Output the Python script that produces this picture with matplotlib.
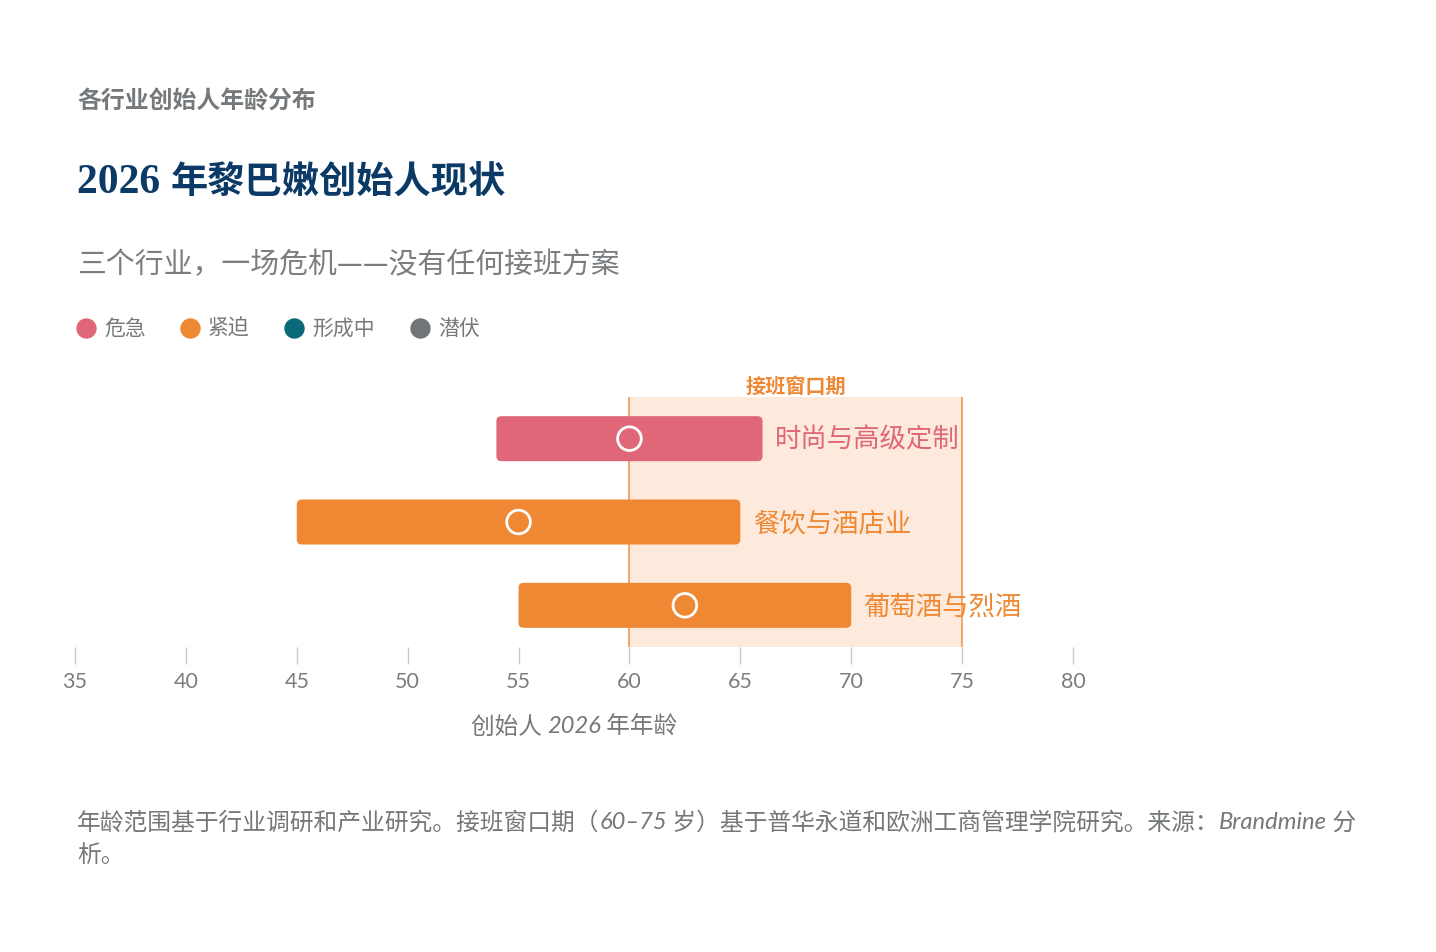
import matplotlib
matplotlib.use('Agg')
import matplotlib.pyplot as plt
from matplotlib.patches import FancyBboxPatch

# ---------------- data ----------------
industries = ['时尚与高级定制', '餐饮与酒店业', '葡萄酒与烈酒']
age_low = [54, 45, 55]
age_high = [66, 65, 70]
age_mid = [60, 55, 62.5]
industry_status = ['危急', '紧迫', '紧迫']

legend_labels = ['危急', '紧迫', '形成中', '潜伏']
legend_colors = ['#df6777', '#ee8833', '#0b6a78', '#727679']

window_range = [60, 75]
window_label = '接班窗口期'
xticks = [35, 40, 45, 50, 55, 60, 65, 70, 75, 80]

kicker = '各行业创始人年龄分布'
title_num = '2026 '
title_cjk = '年黎巴嫩创始人现状'
subtitle = '三个行业，一场危机——没有任何接班方案'

CJK = 'Noto Sans CJK SC'
LAT = 'Lato'
status_color = dict(zip(legend_labels, legend_colors))

W, H = 1436, 953
fig = plt.figure(figsize=(W / 100, H / 100), dpi=100)
fig.patch.set_facecolor('white')

# main axes: x 35..80 maps to px 75..1073 ; y from px 398 to 648
ax = fig.add_axes([75 / W, (H - 648) / H, 998 / W, 250 / H])
ax.set_xlim(35, 80)
ax.set_ylim(2.5, -0.5)
for s in ax.spines.values():
    s.set_visible(False)
ax.set_yticks([])
ax.set_xticks(xticks)
ax.set_xticklabels([str(t) for t in xticks], fontfamily=LAT)
ax.tick_params(axis='x', length=12.5, width=1, color='#c9c9c9',
               labelsize=15.5, labelcolor='#7a7e81', pad=4.5)
ax.patch.set_alpha(0)

# succession window
ax.axvspan(window_range[0], window_range[1], color='#fdeadc', zorder=0, lw=0)
for v in window_range:
    ax.axvline(v, color='#f0a35f', lw=1.3, zorder=1)

# bars
bar_h = 0.54
x_per_px = 45 / 998
y_per_px = 3 / 250
rs = 5 * x_per_px
for i, (lo, hi, mid, st, name) in enumerate(zip(age_low, age_high, age_mid, industry_status, industries)):
    c = status_color[st]
    p = FancyBboxPatch((lo, i - bar_h / 2), hi - lo, bar_h,
                       boxstyle=f'round,pad=0,rounding_size={rs}',
                       mutation_aspect=y_per_px / x_per_px,
                       facecolor=c, edgecolor='none', zorder=2)
    ax.add_patch(p)
    ax.scatter([mid], [i], s=290, facecolors='none', edgecolors='white',
               linewidths=2.0, zorder=3)
    ax.text(hi + 0.55, i + 0.01, name, va='center', ha='left', fontsize=19,
            color=c, fontfamily=CJK, zorder=4, clip_on=False)

# ---------------- overlay for text in pixel coords ----------------
ov = fig.add_axes([0, 0, 1, 1], zorder=10)
ov.set_xlim(0, W)
ov.set_ylim(H, 0)
ov.axis('off')
ov.patch.set_alpha(0)
renderer = fig.canvas.get_renderer()


def segments(x, y, parts, **kw):
    for s, props in parts:
        t = ov.text(x, y, s, va='center', ha='left', **kw, **props)
        bb = t.get_window_extent(renderer=renderer)
        x += bb.width


ov.text(77, 101, kicker, fontsize=17.2, fontweight='bold', color='#75797c',
        fontfamily=CJK, va='center')

segments(77, 183, [(title_num, dict(fontfamily='Liberation Serif', fontsize=30)),
                   (title_cjk, dict(fontfamily=CJK, fontsize=26.8))],
         fontweight='bold', color='#0b3a67')

ov.text(77, 265, subtitle, fontsize=20.8, color='#7a7e81', fontfamily=CJK, va='center')

# legend
lx = [86, 190, 294, 420]
for x0, lab, col in zip(lx, legend_labels, legend_colors):
    ov.scatter([x0], [329], s=215, color=col, lw=0)
    ov.text(x0 + 18, 329, lab, fontsize=15, color='#76797c', fontfamily=CJK, va='center')

ov.text(796, 386, window_label, fontsize=14.5, fontweight='bold', color='#ee8833',
        fontfamily=CJK, va='center', ha='center')

# x label (centered on the axis)
xl_parts = [('创始人 ', dict(fontfamily=CJK)),
            ('2026', dict(fontfamily=LAT, fontstyle='italic')),
            (' 年年龄', dict(fontfamily=CJK))]
tot = 0
for s, pr in xl_parts:
    t = ov.text(0, 0, s, fontsize=17, **pr)
    tot += t.get_window_extent(renderer=renderer).width
    t.remove()
segments(574 - tot / 2, 727, xl_parts, fontsize=17, color='#75797c')

# footnote
gray = '#74787b'
segments(77, 823, [('年龄范围基于行业调研和产业研究。接班窗口期（', dict(fontfamily=CJK)),
                   ('60–75', dict(fontfamily=LAT, fontstyle='italic')),
                   (' 岁）基于普华永道和欧洲工商管理学院研究。来源：', dict(fontfamily=CJK)),
                   ('Brandmine', dict(fontfamily=LAT, fontstyle='italic')),
                   (' 分', dict(fontfamily=CJK))],
         fontsize=17.1, color=gray)
segments(77, 856, [('析。', dict(fontfamily=CJK))], fontsize=17.1, color=gray)

fig.savefig('out.png', dpi=100, facecolor='white')
